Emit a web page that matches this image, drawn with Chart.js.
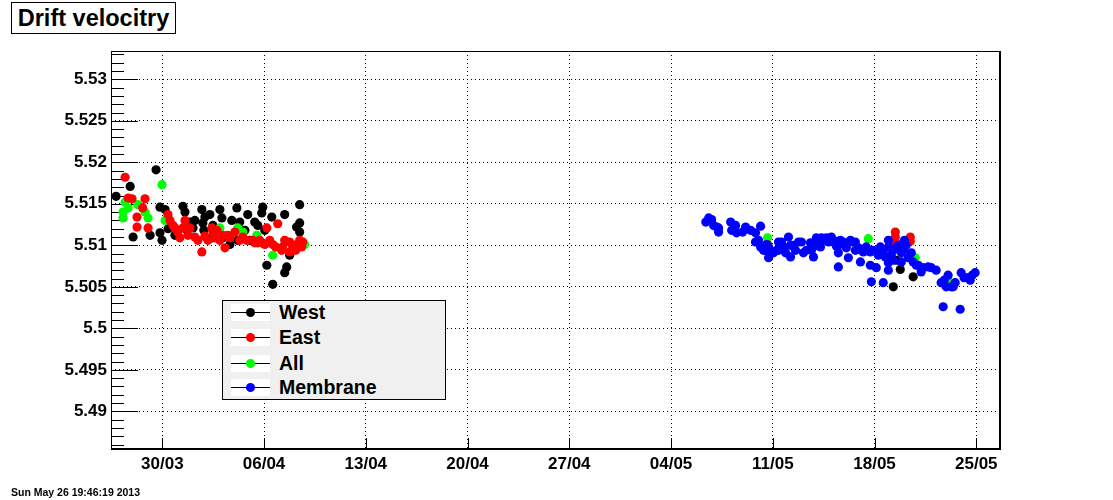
<!DOCTYPE html>
<html>
<head>
<meta charset="utf-8">
<script src="https://cdn.jsdelivr.net/npm/chart.js@4.4.1/dist/chart.umd.min.js"></script>
<style>
  html, body { margin: 0; padding: 0; background: #ffffff; }
  #wrap { position: relative; width: 1113px; height: 500px; overflow: hidden; font-family: "Liberation Sans", Arial, Helvetica, sans-serif; }
  #c { position: absolute; left: 0; top: 0; }
  #title { position: absolute; left: 11px; top: 2px; width: 163px; height: 30px; border: 1px solid #000; background: #fff;
           font-weight: bold; font-size: 23.5px; line-height: 30px; text-align: center; color: #000; white-space: nowrap; }
  #legend { position: absolute; left: 222px; top: 300px; width: 222px; height: 98px; border: 1px solid #000; background: #f0f0f0; }
  .row { position: absolute; left: 0; height: 20px; width: 222px; }
  .sym { position: absolute; left: 8px; top: 1px; width: 39px; height: 17px; background: #fff; }
  .sym .ln { position: absolute; left: 0; top: 8px; width: 39px; height: 1px; background: #000; }
  .sym .mk { position: absolute; left: 15px; top: 4px; width: 9px; height: 9px; border-radius: 50%; }
  .lbl { position: absolute; left: 56px; top: -2px; font-weight: bold; font-size: 19.5px; line-height: 22px; color: #000; white-space: nowrap; }
  #date { position: absolute; left: 11px; top: 486px; font-weight: bold; font-size: 10.5px; color: #000; white-space: nowrap; }
</style>
</head>
<body>
<div id="wrap">
  <canvas id="c" width="1113" height="500"></canvas>
  <div id="title">Drift velocitry</div>
  <div id="legend"></div>
  <div id="date">Sun May 26 19:46:19 2013</div>
</div>
<script>
// ---- Axis ticks (x in days since 30/03/2013) ----
const xTickValues = [0, 7, 14, 21, 28, 35, 42, 49, 56];
const xTickLabels = ['30/03', '06/04', '13/04', '20/04', '27/04', '04/05', '11/05', '18/05', '25/05'];
const yTickValues = [5.49, 5.495, 5.5, 5.505, 5.51, 5.515, 5.52, 5.525, 5.53];
const yTickLabels = ['5.49', '5.495', '5.5', '5.505', '5.51', '5.515', '5.52', '5.525', '5.53'];
const xRange = [-3.53, 57.70];
const yRange = [5.48534, 5.53341];

// ---- Series: [day, drift velocity] ----
const seriesNames = ['West', 'East', 'All', 'Membrane'];
const westData = [
  [-3.18, 5.5159], [-2.21, 5.5171], [-0.43, 5.5191], [-2.01, 5.5110], [-0.84, 5.5112],
  [-0.16, 5.5146], [0.19, 5.5143], [-0.02, 5.5106], [-0.16, 5.5115], [1.42, 5.5147],
  [1.56, 5.5140], [1.90, 5.5128], [2.24, 5.5130], [2.72, 5.5143], [2.93, 5.5134],
  [2.79, 5.5127], [2.86, 5.5118], [3.48, 5.5109], [3.96, 5.5143], [4.10, 5.5133],
  [4.17, 5.5109], [4.78, 5.5130], [5.13, 5.5145], [4.65, 5.5101], [6.02, 5.5106],
  [6.36, 5.5128], [6.91, 5.5146], [6.84, 5.5139], [7.53, 5.5134], [8.42, 5.5137],
  [9.45, 5.5149], [9.45, 5.5127], [9.24, 5.5122], [7.19, 5.5076], [8.56, 5.5074],
  [8.42, 5.5067], [7.60, 5.5053], [8.76, 5.5088], [7.05, 5.5118], [6.57, 5.5124],
  [5.68, 5.5118], [5.19, 5.5106], [3.48, 5.5124], [0.87, 5.5112], [2.11, 5.5121],
  [9.45, 5.5116], [5.33, 5.5128], [5.88, 5.5137], [3.27, 5.5137], [1.70, 5.5118],
  [0.40, 5.5120],
  [50.50, 5.5082], [50.77, 5.5071], [51.66, 5.5062], [50.29, 5.5050]
];
const eastData = [
  [-2.56, 5.5182], [-2.35, 5.5157], [-2.08, 5.5156], [-1.19, 5.5156], [-1.35, 5.5145],
  [-1.74, 5.5134], [-1.74, 5.5122], [-0.98, 5.5121], [0.53, 5.5130], [0.73, 5.5124],
  [1.21, 5.5109], [1.56, 5.5130], [1.90, 5.5121], [2.24, 5.5110], [2.72, 5.5092],
  [3.14, 5.5106], [3.76, 5.5118], [4.17, 5.5112], [4.31, 5.5097], [5.33, 5.5106],
  [5.54, 5.5110], [6.22, 5.5106], [6.84, 5.5103], [7.19, 5.5121], [7.94, 5.5126],
  [8.28, 5.5098], [8.76, 5.5104], [9.24, 5.5101], [9.66, 5.5104], [9.59, 5.5098],
  [3.48, 5.5116], [6.36, 5.5103], [6.70, 5.5106], [8.21, 5.5094], [8.76, 5.5092],
  [7.60, 5.5101], [4.65, 5.5109],
  [0.87, 5.5121], [1.06, 5.5116], [1.77, 5.5112], [2.45, 5.5106], [2.93, 5.5111],
  [3.41, 5.5121], [3.62, 5.5109], [3.96, 5.5106], [4.51, 5.5112], [4.99, 5.5116],
  [5.81, 5.5106], [6.57, 5.5103], [7.05, 5.5101], [7.39, 5.5106], [7.80, 5.5098],
  [8.42, 5.5106], [8.97, 5.5099], [9.45, 5.5106], [9.17, 5.5094], [0.39, 5.5137],
  [1.42, 5.5121],
  [50.43, 5.5116], [50.43, 5.5110], [50.43, 5.5104], [51.46, 5.5110], [51.46, 5.5105],
  [41.64, 5.5101], [50.15, 5.5094]
];
const allData = [
  [-2.56, 5.5152], [-2.70, 5.5140], [-2.70, 5.5133], [-2.35, 5.5145], [-1.67, 5.5149],
  [-1.19, 5.5140], [-0.98, 5.5133], [-0.02, 5.5173], [0.19, 5.5130], [3.96, 5.5121],
  [5.19, 5.5121], [5.54, 5.5116], [6.50, 5.5112], [7.60, 5.5088], [9.79, 5.5101],
  [41.64, 5.5109], [48.57, 5.5108], [50.63, 5.5097], [51.80, 5.5085], [54.06, 5.5058]
];
const membraneData = [
  [37.39, 5.5128], [37.59, 5.5133], [37.93, 5.5124], [38.14, 5.5122], [38.27, 5.5116],
  [39.10, 5.5128], [39.17, 5.5118], [39.44, 5.5124], [39.51, 5.5115], [40.13, 5.5122],
  [40.47, 5.5118], [40.81, 5.5115], [41.16, 5.5123], [40.81, 5.5104], [41.16, 5.5098],
  [41.36, 5.5094], [41.71, 5.5091], [41.71, 5.5085], [42.39, 5.5104], [42.26, 5.5094],
  [43.08, 5.5110], [42.88, 5.5091], [43.22, 5.5086], [43.56, 5.5094], [43.97, 5.5104],
  [44.11, 5.5091], [44.66, 5.5094], [44.80, 5.5086], [45.00, 5.5109], [45.35, 5.5109],
  [45.28, 5.5098], [45.83, 5.5104], [46.03, 5.5110], [46.65, 5.5106], [46.51, 5.5091],
  [46.51, 5.5074], [47.20, 5.5085], [47.41, 5.5104], [47.68, 5.5094], [48.03, 5.5080],
  [48.09, 5.5094], [48.71, 5.5076], [48.78, 5.5056], [49.12, 5.5073], [49.40, 5.5098],
  [49.60, 5.5055], [49.95, 5.5098], [49.95, 5.5079], [49.95, 5.5070], [50.15, 5.5088],
  [50.63, 5.5100], [50.84, 5.5091], [51.18, 5.5100], [51.32, 5.5085], [52.01, 5.5076],
  [52.21, 5.5068], [52.69, 5.5074], [53.24, 5.5070], [53.58, 5.5055], [54.06, 5.5064],
  [54.27, 5.5050], [54.96, 5.5067], [55.44, 5.5061], [55.92, 5.5067], [53.72, 5.5026],
  [54.89, 5.5023],
  [37.79, 5.5131], [38.27, 5.5121], [39.92, 5.5116], [41.02, 5.5106], [41.57, 5.5101],
  [42.05, 5.5091], [42.74, 5.5098], [43.42, 5.5100], [43.77, 5.5104], [44.31, 5.5094],
  [44.59, 5.5103], [45.00, 5.5100], [45.48, 5.5106], [45.69, 5.5109], [46.17, 5.5106],
  [46.38, 5.5099], [46.86, 5.5104], [47.06, 5.5097], [47.34, 5.5106], [47.89, 5.5097],
  [48.23, 5.5092], [48.43, 5.5098], [48.71, 5.5092], [48.91, 5.5094], [49.26, 5.5088],
  [49.60, 5.5094], [49.74, 5.5086], [50.29, 5.5094], [50.50, 5.5098], [50.98, 5.5094],
  [51.05, 5.5106], [51.53, 5.5091], [51.66, 5.5080], [51.87, 5.5076], [52.34, 5.5073],
  [52.90, 5.5073], [53.79, 5.5058], [53.93, 5.5050], [54.41, 5.5050], [54.55, 5.5055],
  [55.16, 5.5061], [55.58, 5.5058], [55.72, 5.5064], [41.71, 5.5098], [42.39, 5.5094],
  [42.60, 5.5104], [43.22, 5.5100], [46.51, 5.5100], [47.68, 5.5104], [49.95, 5.5106],
  [50.29, 5.5082], [50.84, 5.5080]
];
const seriesColors = ['#000000', '#ff0000', '#00ff00', '#0000ff'];
const seriesData = [westData, eastData, allData, membraneData];
const drawOrder = [4, 2, 3, 1];

const FONT = '"Liberation Sans", Arial, Helvetica, sans-serif';

const datasets = seriesNames.map((name, i) => ({
  label: name,
  data: seriesData[i].map(p => ({ x: p[0], y: p[1] })),
  backgroundColor: seriesColors[i],
  borderColor: seriesColors[i],
  borderWidth: 0,
  pointRadius: 4.6,
  pointHoverRadius: 4.6,
  pointStyle: 'circle',
  showLine: false,
  order: drawOrder[i]
}));

// ROOT-style inward tick marks and frame
const rootFrame = {
  id: 'rootFrame',
  beforeDatasetsDraw(chart) {
    const { ctx, chartArea: a, scales: { x, y } } = chart;
    ctx.save();
    ctx.strokeStyle = '#000';
    ctx.lineWidth = 1;
    ctx.setLineDash([]);
    ctx.beginPath();
    const lo = Math.ceil(y.min * 1000), hi = Math.floor(y.max * 1000);
    for (let k = lo; k <= hi; k++) {
      const py = Math.round(y.getPixelForValue(k / 1000)) + 0.5;
      const len = (k % 5 === 0) ? 27 : 13;
      ctx.moveTo(a.left, py); ctx.lineTo(a.left + len, py);
    }
    xTickValues.forEach(v => {
      const px = Math.round(x.getPixelForValue(v)) + 0.5;
      ctx.moveTo(px, a.bottom); ctx.lineTo(px, a.bottom - 12);
    });
    ctx.stroke();
    ctx.restore();
  },
  afterDatasetsDraw(chart) {
    const { ctx, chartArea: a } = chart;
    ctx.save();
    ctx.strokeStyle = '#000';
    ctx.setLineDash([]);
    ctx.lineWidth = 1;
    ctx.strokeRect(a.left + 0.5, a.top + 0.5, a.right - a.left - 1, a.bottom - a.top - 1);
    ctx.lineWidth = 2;
    ctx.beginPath();
    ctx.moveTo(a.left, a.bottom - 1); ctx.lineTo(a.right - 1, a.bottom - 1); ctx.lineTo(a.right - 1, a.top);
    ctx.stroke();
    ctx.restore();
  }
};

new Chart(document.getElementById('c'), {
  type: 'scatter',
  data: { datasets },
  options: {
    responsive: false,
    animation: false,
    devicePixelRatio: 1,
    layout: { padding: { left: 0, right: 112, top: 51, bottom: 20 } },
    plugins: { legend: { display: false }, tooltip: { enabled: false }, title: { display: false } },
    scales: {
      x: {
        type: 'linear', min: xRange[0], max: xRange[1],
        afterBuildTicks: s => { s.ticks = xTickValues.map(v => ({ value: v })); },
        afterFit: s => { s.height = 30; },
        ticks: {
          autoSkip: false, maxRotation: 0, padding: 4, color: '#000',
          font: { family: FONT, weight: 'bold', size: 17 },
          callback: v => xTickLabels[xTickValues.indexOf(v)]
        },
        grid: { color: '#000', lineWidth: 1, drawTicks: false },
        border: { display: false, dash: [1, 3] }
      },
      y: {
        type: 'linear', min: yRange[0], max: yRange[1],
        afterBuildTicks: s => { s.ticks = yTickValues.map(v => ({ value: v })); },
        afterFit: s => { s.width = 111; },
        ticks: {
          autoSkip: false, padding: 4, color: '#000',
          font: { family: FONT, weight: 'bold', size: 17 },
          callback: v => yTickLabels[yTickValues.indexOf(v)]
        },
        grid: { color: '#000', lineWidth: 1, drawTicks: false },
        border: { display: false, dash: [1, 3] }
      }
    }
  },
  plugins: [rootFrame]
});

// HTML legend built from the series definitions
const legendEl = document.getElementById('legend');
const rowTops = [1.7, 27.3, 52.7, 76.7];
seriesNames.forEach((name, i) => {
  const row = document.createElement('div');
  row.className = 'row';
  row.style.top = rowTops[i] + 'px';
  row.innerHTML = '<div class="sym"><div class="ln"></div><div class="mk" style="background:' + seriesColors[i] + '"></div></div>' +
                  '<div class="lbl">' + name + '</div>';
  legendEl.appendChild(row);
});
</script>
</body>
</html>
